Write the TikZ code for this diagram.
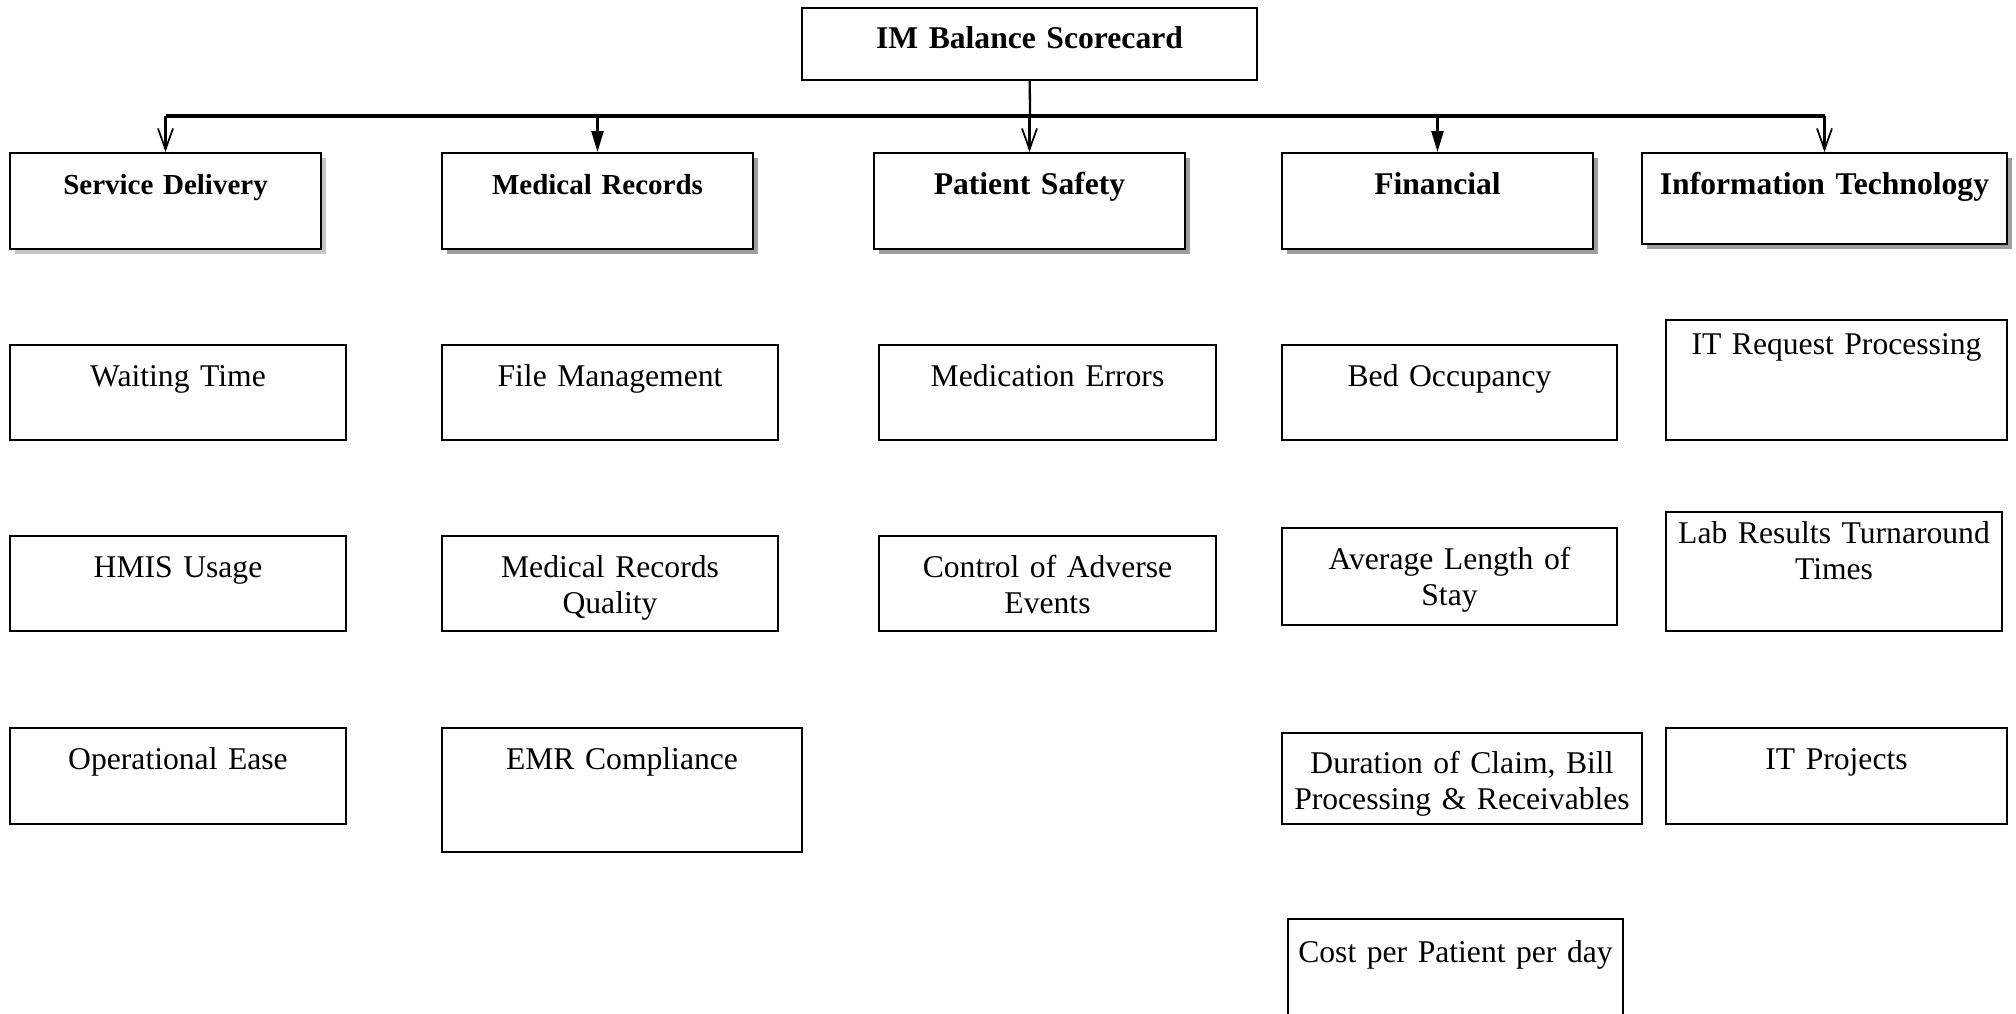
\documentclass[tikz,border=0pt]{standalone}
\usepackage{fontspec}
\setmainfont{Liberation Serif}
\usetikzlibrary{arrows.meta,shadows}

\newcommand\kpifont{\fontsize{18}{21}\selectfont}
\newcommand\hdrfont{\fontsize{18}{21}\selectfont\bfseries}

\tikzset{
  box/.style={draw,line width=1.1pt,inner sep=0pt,align=center,fill=white},
  kpi/.style 2 args={box,font=\kpifont,text width=#1,text height=0.82cm,text depth=#2},
  hdr/.style 2 args={box,font=\hdrfont,text width=#1,text height=0.82cm,text depth=#2,
    drop shadow={shadow xshift=0.1cm,shadow yshift=-0.1cm,fill=gray!75,opacity=1}},
  vtip/.style={line width=1.3pt,-{Straight Barb[length=0.42cm,width=0.3cm,line width=1pt]}},
  ftip/.style={line width=1.3pt,-{Triangle[length=0.42cm,width=0.24cm]}}
}

\begin{document}
\begin{tikzpicture}[x=0.02cm,y=-0.02cm]
\useasboundingbox (0,0) rectangle (2016,1014);

\node[box,font=\hdrfont,text width=9.1cm,text height=0.82cm,text depth=0.62cm] (im) at (1029.5,44) {IM Balance Scorecard};

% headers
\node[hdr={6.22cm}{1.10cm},font=\fontsize{16.5}{20}\selectfont\bfseries,
  drop shadow={shadow xshift=0.1cm,shadow yshift=-0.1cm,fill=gray!45,opacity=1}] (sd) at (165.5,201) {Service Delivery};
\node[hdr={6.22cm}{1.10cm},font=\fontsize{16.5}{20}\selectfont\bfseries] (mr) at (597.5,201) {Medical Records};
\node[hdr={6.22cm}{1.10cm}] (ps) at (1029.5,201) {Patient Safety};
\node[hdr={6.22cm}{1.10cm}] (fin) at (1437.5,201) {Financial};
\node[hdr={7.3cm}{1.00cm}] (it) at (1824.5,198.5) {Information Technology};

% service delivery
\node[kpi={6.72cm}{1.08cm}] (sd1) at (178,392.5) {Waiting Time};
\node[kpi={6.72cm}{1.08cm}] (sd2) at (178,583.5) {HMIS Usage};
\node[kpi={6.72cm}{1.10cm}] (sd3) at (178,776) {Operational Ease};

% medical records
\node[kpi={6.72cm}{1.08cm}] (mr1) at (610,392.5) {File Management};
\node[kpi={6.72cm}{1.08cm}] (mr2) at (610,583.5) {Medical Records\\Quality};
\node[kpi={7.2cm}{1.66cm}] (mr3) at (622,790) {EMR Compliance};

% patient safety
\node[kpi={6.74cm}{1.08cm}] (ps1) at (1047.5,392.5) {Medication Errors};
\node[kpi={6.74cm}{1.08cm}] (ps2) at (1047.5,583.5) {Control of Adverse\\Events};

% financial
\node[kpi={6.7cm}{1.08cm}] (fin1) at (1449.5,392.5) {Bed Occupancy};
\node[kpi={6.7cm}{1.12cm}] (fin2) at (1449.5,576.5) {Average Length of\\Stay};
\node[kpi={7.2cm}{1.02cm},text height=0.8cm] (fin3) at (1462,778.5) {Duration of Claim, Bill\\Processing \& Receivables};
\node[kpi={6.7cm}{1.74cm},text height=0.86cm] (fin4) at (1455.5,984) {Cost per Patient per day};

% information technology
\node[kpi={6.82cm}{1.72cm},text height=0.68cm] (it1) at (1836.5,380) {IT Request Processing};
\node[kpi={6.72cm}{1.76cm},text height=0.62cm] (it2) at (1834,571.5) {Lab Results Turnaround\\Times};
\node[kpi={6.82cm}{1.10cm}] (it3) at (1836.5,776) {IT Projects};

% connectors
\coordinate (bus) at (1030,116);
\draw[line width=1.3pt] (im) -- (bus);
\draw[line width=2.2pt] (sd.north |- bus) -- (it.north |- bus);
\path (sd.north |- bus)  edge[vtip] (sd.north)
      (mr.north |- bus)  edge[ftip] (mr.north)
      (ps.north |- bus)  edge[vtip] (ps.north)
      (fin.north |- bus) edge[ftip] (fin.north)
      (it.north |- bus)  edge[vtip] (it.north);
\end{tikzpicture}
\end{document}
